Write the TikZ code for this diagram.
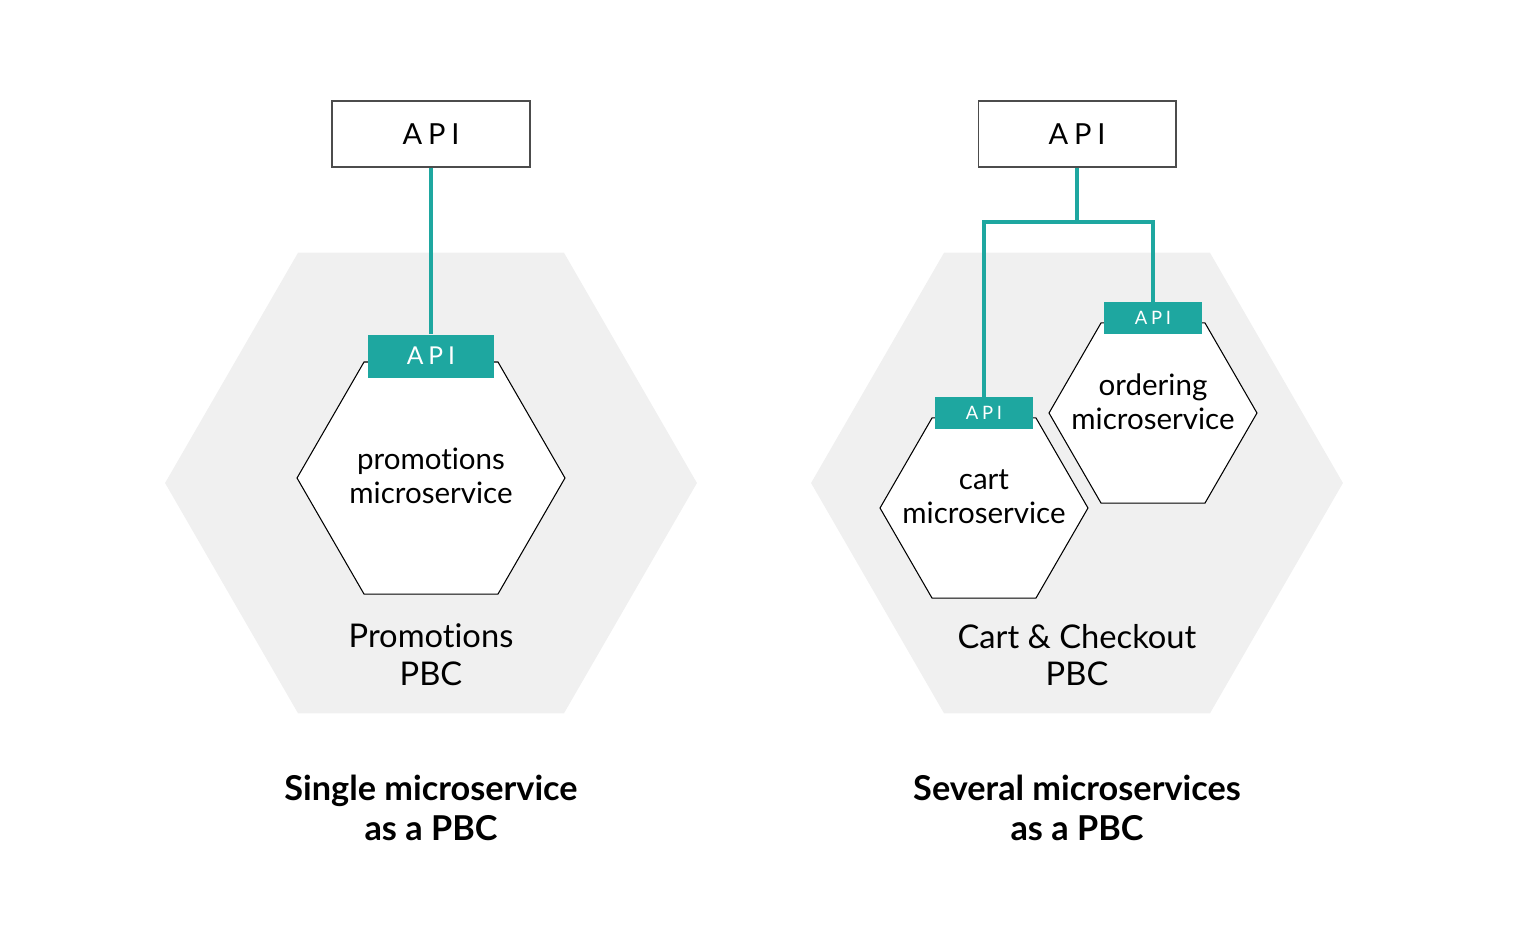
\documentclass[tikz,border=0pt]{standalone}
\usepackage{fontspec}
\setmainfont[Ligatures={NoCommon}]{Lato}
\newfontfamily\apifont[LetterSpace=20]{Lato}
\usetikzlibrary{shapes.geometric}

\definecolor{pbcteal}{RGB}{30,167,160}
\definecolor{pbcgray}{RGB}{240,240,240}

\tikzset{
  pbchex/.style={regular polygon, regular polygon sides=6, fill=pbcgray, inner sep=0pt, minimum size=10.64cm},
  svchex/.style={regular polygon, regular polygon sides=6, draw=black, line width=0.6pt, fill=white, inner sep=0pt},
  apibox/.style={draw=black!70, line width=0.6pt, fill=white, minimum width=3.96cm, minimum height=1.32cm, inner sep=0pt, font=\apifont\fontsize{16.5}{20}\selectfont},
  apitag/.style={fill=pbcteal, text=white, inner sep=0pt},
  link/.style={draw=pbcteal, line width=2.2pt},
  svctext/.style={align=center, font=\fontsize{16.8}{19.3}\selectfont},
  pbctext/.style={align=center, font=\fontsize{18.6}{21.5}\selectfont},
  caption/.style={align=center, font=\bfseries\fontsize{19.5}{22.7}\selectfont}
}

\begin{document}
\begin{tikzpicture}[x=0.02cm, y=-0.02cm]
  \useasboundingbox (0,0) rectangle (1529,938);

  % left: one microservice
  \node (pbcA) at (431,483) [pbchex] {};
  \node (promo) at (431,478) [svchex, minimum size=5.36cm] {};
  \node (promoapi) at (431,356) [apitag, minimum width=2.52cm, minimum height=0.86cm, font=\apifont\fontsize{14}{17}\selectfont] {API};
  \node (apiA) at (431,134) [apibox] {API};
  \draw[link] (apiA) -- (promoapi);

  \node (promotxt) at (431,476) [svctext] {promotions\\microservice};
  \node (pbcAtxt) at (431,655) [pbctext] {Promotions\\PBC};
  \node (capA) at (431,808) [caption] {Single microservice\\as a PBC};

  % right: several microservices
  \node (pbcB) at (1077,483) [pbchex] {};
  \node (order) at (1153,413) [svchex, minimum size=4.16cm] {};
  \node (cart) at (984,508) [svchex, minimum size=4.16cm] {};
  \node (orderapi) at (1153,318) [apitag, minimum width=1.96cm, minimum height=0.64cm, font=\apifont\fontsize{10.5}{13}\selectfont] {API};
  \node (cartapi) at (984,413) [apitag, minimum width=1.96cm, minimum height=0.64cm, font=\apifont\fontsize{10.5}{13}\selectfont] {API};
  \node (apiB) at (1077,134) [apibox] {API};
  \coordinate (fork) at (1077,222);
  \draw[link] (apiB) -- (fork);
  \draw[link] (cartapi.north) |- (fork) -| (orderapi.north);

  \node (ordertxt) at (1153,402) [svctext] {ordering\\microservice};
  \node (carttxt) at (984,497) [svctext] {cart\\microservice};
  \node (pbcBtxt) at (1077,655) [pbctext] {Cart \& Checkout\\PBC};
  \node (capB) at (1077,808) [caption] {Several microservices\\as a PBC};
\end{tikzpicture}
\end{document}
